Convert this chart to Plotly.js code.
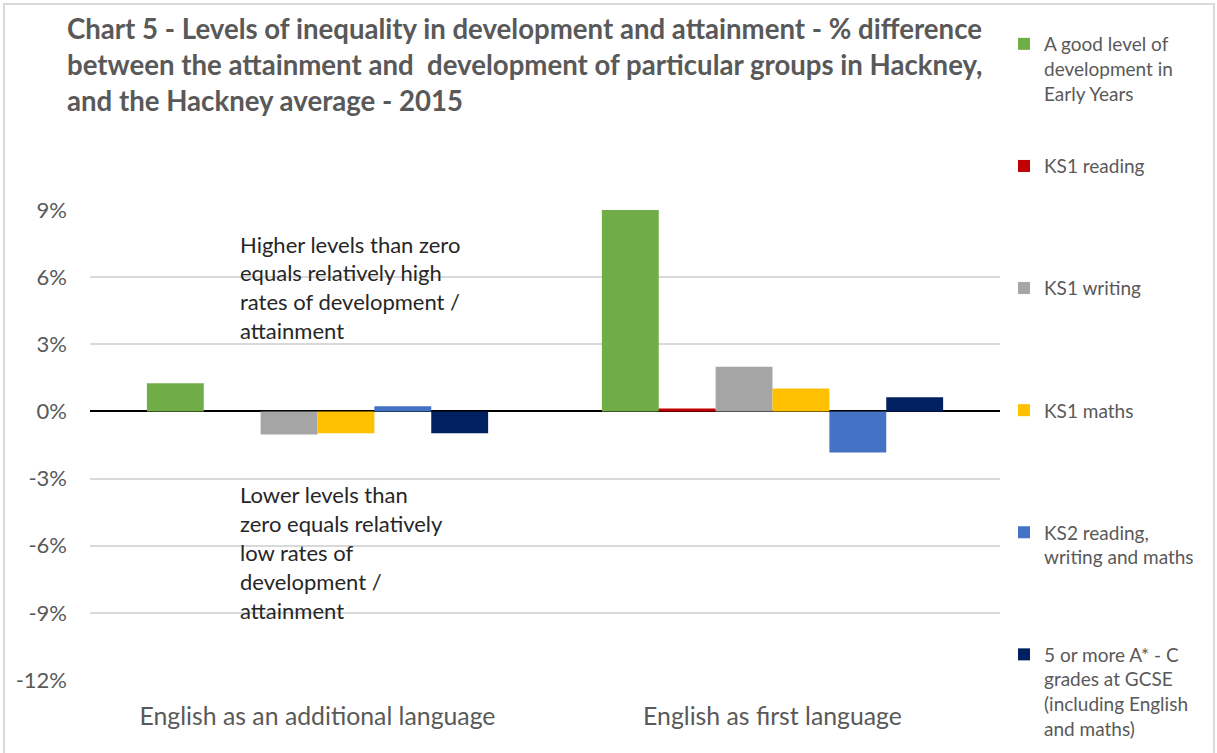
<!DOCTYPE html>
<html><head><meta charset="utf-8">
<script src="https://cdn.plot.ly/plotly-3.0.1.min.js"></script>
<style>
body{margin:0;background:#fff;}
#chart{position:absolute;left:0;top:0;width:1217px;height:753px;}
#frame{position:absolute;left:3px;top:3px;width:1208px;height:800px;border:2px solid #d9d9d9;pointer-events:none;}
</style>
</head><body>
<div id="chart"></div>
<div id="frame"></div>
<script>
// ---- data (percentage points vs Hackney average, 2015) ----
const categories = ["English as an additional language", "English as first language"];
const seriesNames = [
  "A good level of<br>development in<br>Early Years",
  "KS1 reading",
  "KS1 writing",
  "KS1 maths",
  "KS2 reading,<br>writing and maths",
  "5 or more A* - C<br>grades at GCSE<br>(including English<br>and maths)"
];
const earlyYears = [1.26, 9.0];
const ks1Reading = [0.0, 0.13];
const ks1Writing = [-1.03, 2.0];
const ks1Maths = [-0.97, 1.03];
const ks2Rwm = [0.23, -1.84];
const gcse5AC = [-0.97, 0.63];
const yTicks = [-12, -9, -6, -3, 0, 3, 6, 9];
const noteAbove = ["Higher levels than zero", "equals relatively high", "rates of development /", "attainment"];
const noteBelow = ["Lower levels than", "zero equals relatively", "low rates of", "development /", "attainment"];

const seriesValues = [earlyYears, ks1Reading, ks1Writing, ks1Maths, ks2Rwm, gcse5AC];
const colors = ["#70ad47", "#c00000", "#a5a5a5", "#ffc000", "#4472c4", "#002060"];

const W = 1217, H = 753;
const M = {l: 90, r: 217, t: 210, b: 73, autoexpand: false};
const plotH = H - M.t - M.b, plotW = W - M.l - M.r;
const pxX = x => (x - M.l) / plotW;
const pxY = y => (H - M.b - y) / plotH;

function padLines(name) {
  const n = name.split("<br>").length;
  let s = name;
  for (let i = n; i < 3; i++) s += "<br> ";
  return s;
}

const traces = seriesValues.map((vals, i) => ({
  type: "bar",
  x: categories,
  y: vals,
  name: padLines(seriesNames[i]),
  legendgroup: "g" + i,
  marker: {color: colors[i], line: {width: 0}},
  hoverinfo: "x+y+name"
}));

const noteFont = {family: "Lato, sans-serif", size: 22, color: "#262626"};
const annotations = [];
noteAbove.forEach((t, i) => annotations.push({
  xref: "paper", yref: "paper", x: pxX(238), y: pxY(244 + i * 28.7),
  xanchor: "left", yanchor: "middle", showarrow: false, text: t, font: noteFont
}));
noteBelow.forEach((t, i) => annotations.push({
  xref: "paper", yref: "paper", x: pxX(238), y: pxY(494 + i * 29),
  xanchor: "left", yanchor: "middle", showarrow: false, text: t, font: noteFont
}));

const layout = {
  width: W, height: H,
  margin: M,
  paper_bgcolor: "#ffffff", plot_bgcolor: "#ffffff",
  barmode: "group", bargap: 0.25, bargroupgap: 0,
  title: {
    text: "Chart 5 - Levels of inequality in development and attainment - % difference<br>between the attainment and  development of particular groups in Hackney,<br>and the Hackney average - 2015",
    xref: "container", yref: "container", x: 67 / W, xanchor: "left",
    y: 1 - 39 / H, yanchor: "top",
    font: {family: "Lato, sans-serif", size: 27.6, color: "#595959", weight: "bold"}
  },
  xaxis: {
    type: "category", showgrid: false, showline: false, ticks: "",
    tickfont: {family: "Lato, sans-serif", size: 24.8, color: "#595959"},
    ticklabelstandoff: 19, fixedrange: true
  },
  yaxis: {
    range: [-12, 9], tickvals: yTicks, ticktext: yTicks.map(v => v + "%"),
    showgrid: true, gridcolor: "#d9d9d9", gridwidth: 1.5,
    zeroline: true, zerolinecolor: "#000000", zerolinewidth: 1.5,
    showline: false, ticks: "",
    tickfont: {family: "Lato, sans-serif", size: 22, color: "#595959"},
    ticklabelstandoff: 22, fixedrange: true
  },
  legend: {
    x: 1 + 4 / plotW, xanchor: "left", xref: "paper",
    y: 1 - 25 / H, yref: "container", yanchor: "top",
    valign: "top", traceorder: "grouped", tracegroupgap: 45,
    maxheight: 740,
    itemwidth: 30, itemclick: false, itemdoubleclick: false,
    font: {family: "Lato, sans-serif", size: 19, color: "#595959"},
    bgcolor: "rgba(0,0,0,0)"
  },
  showlegend: true,
  annotations: annotations
};

Plotly.newPlot("chart", traces, layout, {displayModeBar: false, responsive: false});
</script>
</body></html>
